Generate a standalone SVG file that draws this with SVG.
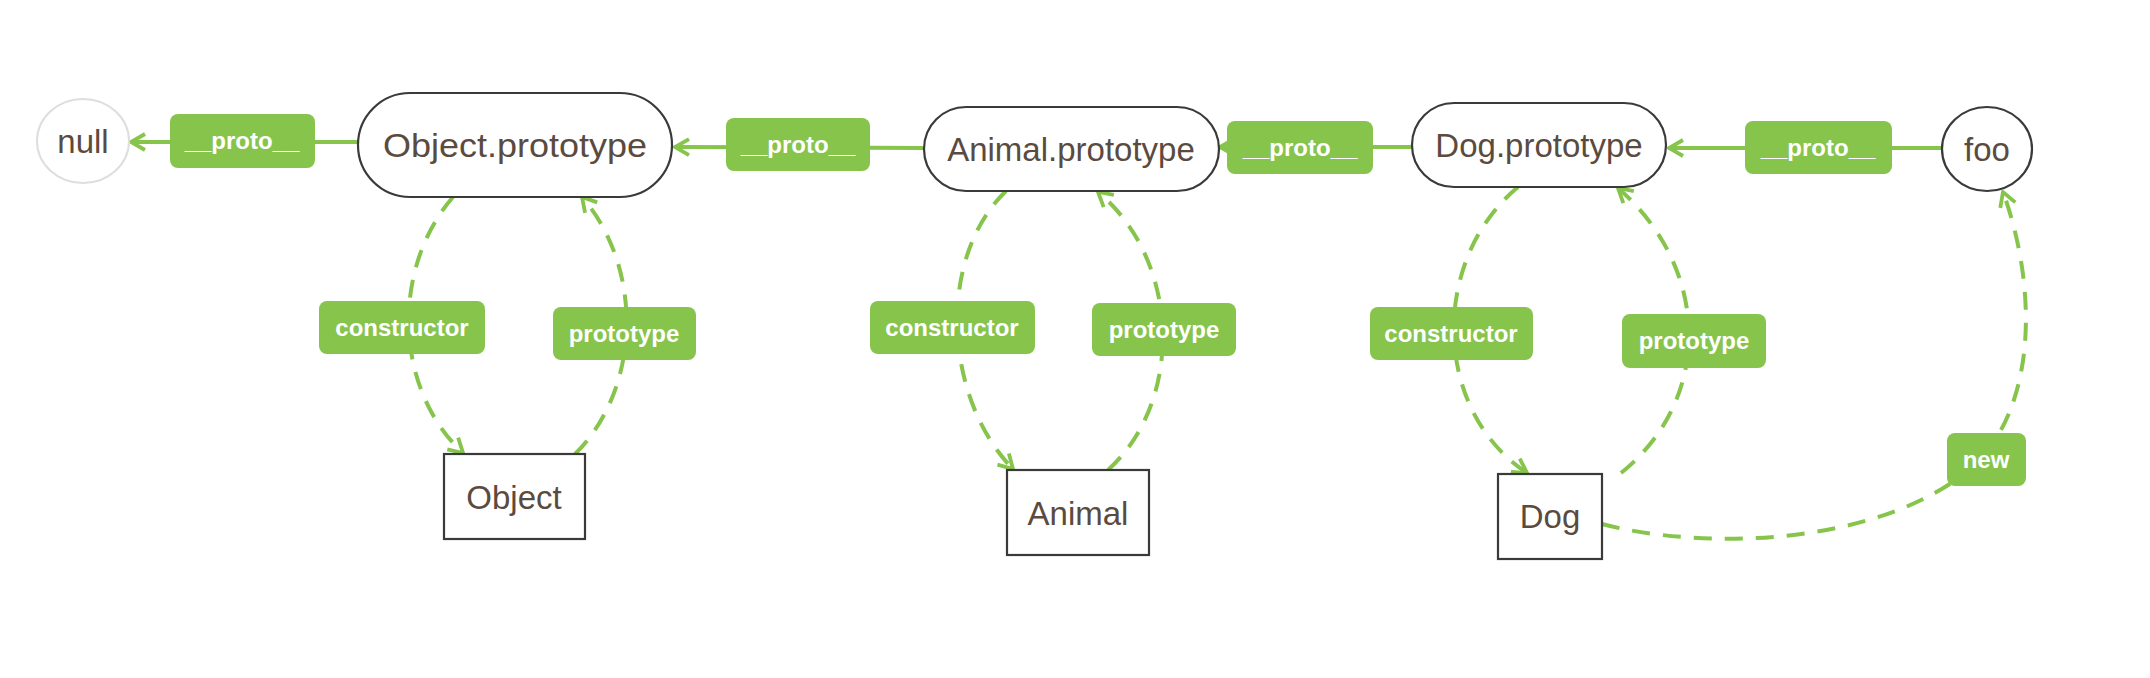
<svg xmlns="http://www.w3.org/2000/svg" width="2150" height="678" viewBox="0 0 2150 678">
<style>
.node{fill:#fff;stroke:#3a3a3a;stroke-width:2.2}
.null{fill:#fff;stroke:#dedede;stroke-width:2}
.ntext{font-family:"Liberation Sans",Arial,sans-serif;font-size:33px;fill:#5b4b3f;text-anchor:middle}
.edge{fill:none;stroke:#86c44c;stroke-width:4}
.dash{stroke-dasharray:18 13}
.lbl{fill:#86c44c}
.ltext{font-family:"Liberation Sans",Arial,sans-serif;font-size:24px;font-weight:bold;fill:#fff;text-anchor:middle}
</style>
<defs>
<marker id="arr" viewBox="0 0 20 20" refX="18" refY="10" markerWidth="20" markerHeight="20" markerUnits="userSpaceOnUse" orient="auto">
<path d="M4,2 L18,10 L4,18" fill="none" stroke="#86c44c" stroke-width="3.8"/>
</marker>
</defs>
<rect width="2150" height="678" fill="#fff"/>
<g id="connectors">
<path class="edge" d="M358,142 L131,142" marker-end="url(#arr)"/>
<path class="edge" d="M924,148 L675,147" marker-end="url(#arr)"/>
<path class="edge" d="M1412,147 L1220,147" marker-end="url(#arr)"/>
<path class="edge" d="M1942,148 L1669,148" marker-end="url(#arr)"/>
<path class="edge dash" d="M453,197 C390,270 395,390 463,453" marker-end="url(#arr)"/>
<path class="edge dash" d="M575,454 C640,390 645,270 582,197" marker-end="url(#arr)"/>
<path class="edge dash" d="M1006,191 C935,260 945,400 1013,469" marker-end="url(#arr)"/>
<path class="edge dash" d="M1108,470 C1185,400 1180,260 1098,192" marker-end="url(#arr)"/>
<path class="edge dash" d="M1518,187 C1430,260 1432,410 1527,473" marker-end="url(#arr)"/>
<path class="edge dash" d="M1621,473 C1712,400 1712,270 1618,188" marker-end="url(#arr)"/>
<path class="edge dash" d="M1602,524 C1700,550 1880,548 1975,465 C2040,400 2035,280 2003,192" marker-end="url(#arr)"/>
<g id="edge-labels">
<rect class="lbl" x="170" y="114" width="145" height="54" rx="8"/>
<text class="ltext" x="242" y="149">__proto__</text>
<rect class="lbl" x="726" y="118" width="144" height="53" rx="8"/>
<text class="ltext" x="798" y="153">__proto__</text>
<rect class="lbl" x="1227" y="121" width="146" height="53" rx="8"/>
<text class="ltext" x="1300" y="156">__proto__</text>
<rect class="lbl" x="1745" y="121" width="147" height="53" rx="8"/>
<text class="ltext" x="1818" y="156">__proto__</text>
<rect class="lbl" x="319" y="301" width="166" height="53" rx="8"/>
<text class="ltext" x="402" y="336">constructor</text>
<rect class="lbl" x="553" y="307" width="143" height="53" rx="8"/>
<text class="ltext" x="624" y="342">prototype</text>
<rect class="lbl" x="870" y="301" width="165" height="53" rx="8"/>
<text class="ltext" x="952" y="336">constructor</text>
<rect class="lbl" x="1092" y="303" width="144" height="53" rx="8"/>
<text class="ltext" x="1164" y="338">prototype</text>
<rect class="lbl" x="1370" y="307" width="163" height="53" rx="8"/>
<text class="ltext" x="1451" y="342">constructor</text>
<rect class="lbl" x="1622" y="314" width="144" height="54" rx="8"/>
<text class="ltext" x="1694" y="349">prototype</text>
<rect class="lbl" x="1947" y="433" width="79" height="53" rx="8"/>
<text class="ltext" x="1986" y="468">new</text>
</g>
</g>
<g id="null"><ellipse class="null" cx="83" cy="141" rx="46" ry="42"/><text class="ntext" x="83" y="153">null</text></g>
<g id="object-prototype"><rect class="node" x="358" y="93" width="314" height="104" rx="52"/><text class="ntext" x="515" y="157" textLength="264" lengthAdjust="spacingAndGlyphs">Object.prototype</text></g>
<g id="animal-prototype"><rect class="node" x="924" y="107" width="295" height="84" rx="42"/><text class="ntext" x="1071" y="161">Animal.prototype</text></g>
<g id="dog-prototype"><rect class="node" x="1412" y="103" width="254" height="84" rx="42"/><text class="ntext" x="1539" y="157">Dog.prototype</text></g>
<g id="foo"><ellipse class="node" cx="1987" cy="149" rx="45" ry="42"/><text class="ntext" x="1987" y="161">foo</text></g>
<g id="object"><rect class="node" x="444" y="454" width="141" height="85"/><text class="ntext" x="514" y="509">Object</text></g>
<g id="animal"><rect class="node" x="1007" y="470" width="142" height="85"/><text class="ntext" x="1078" y="525">Animal</text></g>
<g id="dog"><rect class="node" x="1498" y="474" width="104" height="85"/><text class="ntext" x="1550" y="528">Dog</text></g>
</svg>
